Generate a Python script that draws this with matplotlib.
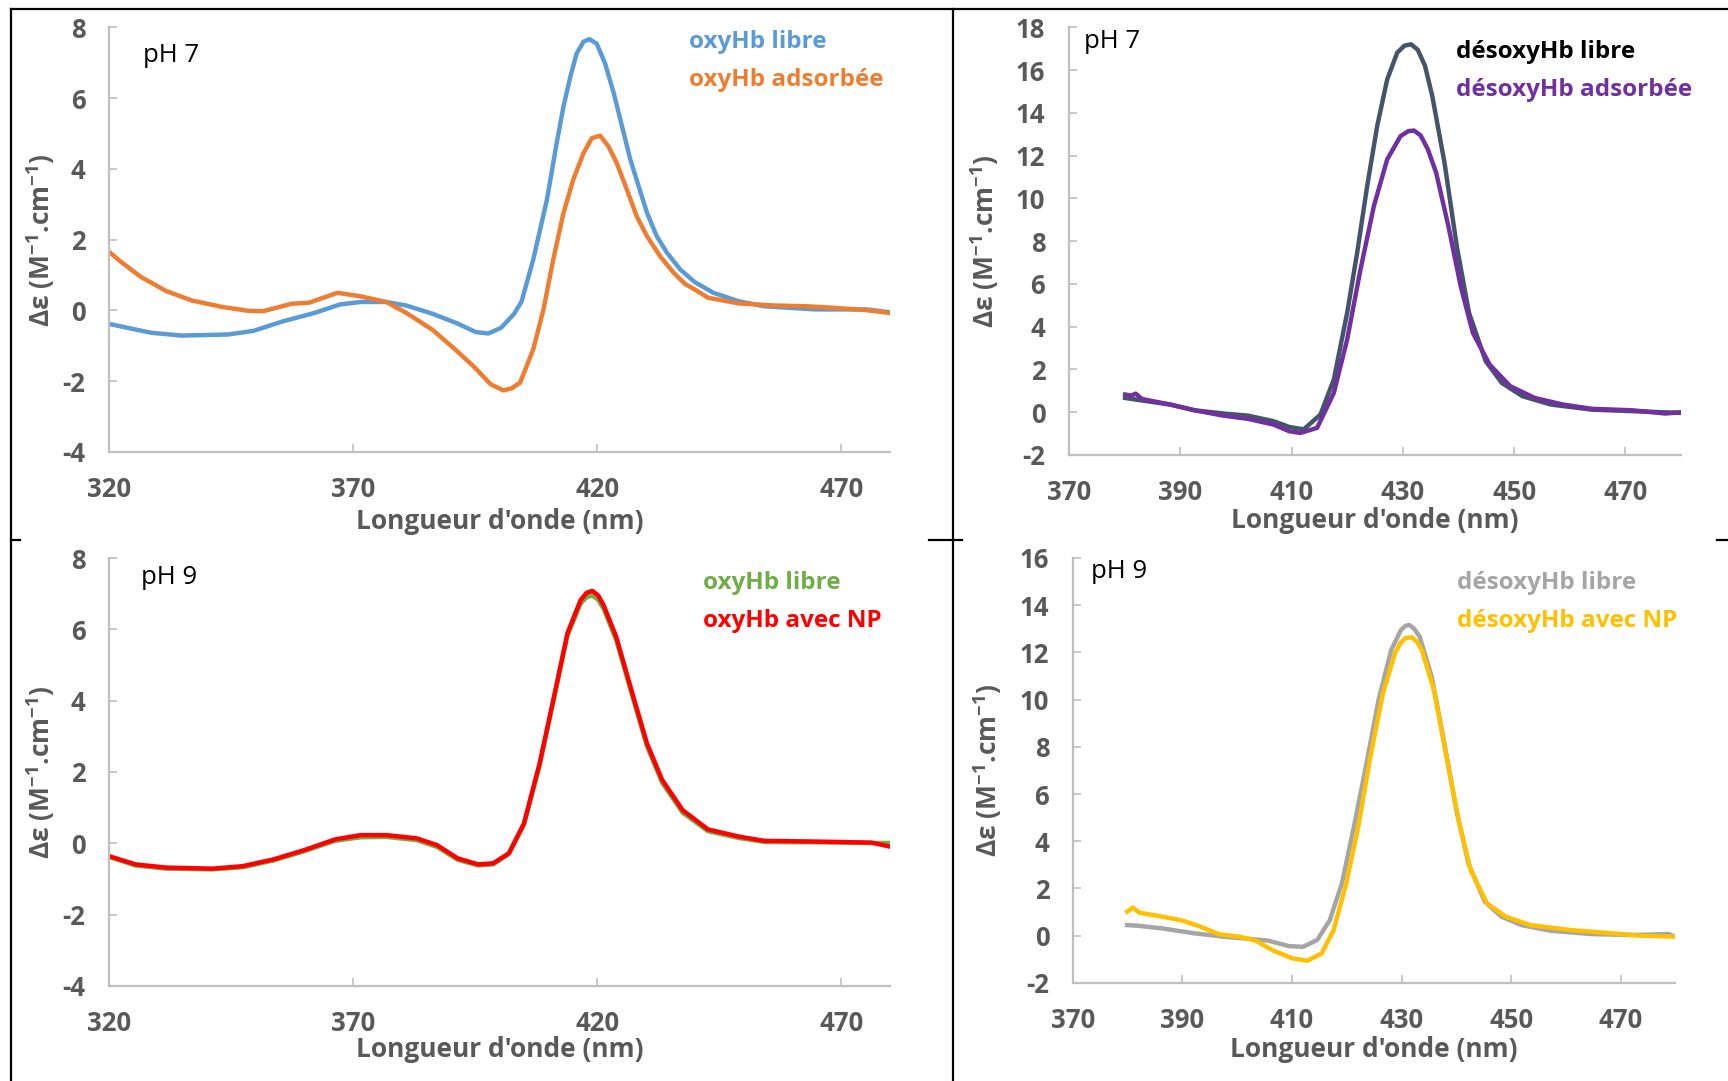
import matplotlib
matplotlib.use("Agg")
import matplotlib.pyplot as plt
from matplotlib.lines import Line2D

plt.rcParams['font.family'] = ['Open Sans', 'DejaVu Sans']
plt.rcParams['mathtext.fontset'] = 'custom'
plt.rcParams['mathtext.rm'] = 'Open Sans:bold'
plt.rcParams['mathtext.bf'] = 'Open Sans:bold'
plt.rcParams['mathtext.default'] = 'bf'
plt.rcParams['axes.unicode_minus'] = False

# ---- pH 7, oxyHb ----
wl_oxy7_libre = [320, 328.6, 334.9, 344.3, 349.5, 355.8, 362.1, 367.3, 371.5, 376.8, 380.9, 386.2,
                 391.4, 395.1, 397.7, 400.3, 402.9, 404.5, 406.9, 409.7, 411.7, 413.1, 414.5, 415.8,
                 417.2, 418.4, 419.9, 421.6, 423.4, 425.1, 426.8, 428.5, 430.2, 432.2, 434.3, 437.0,
                 440.0, 443.8, 449.0, 454.2, 464.7, 475.2, 479.9]
oxy7_libre = [-0.38, -0.63, -0.71, -0.68, -0.58, -0.30, -0.07, 0.17, 0.24, 0.24, 0.14, -0.09,
              -0.37, -0.61, -0.65, -0.49, -0.11, 0.25, 1.44, 3.13, 4.73, 5.77, 6.61, 7.27,
              7.60, 7.67, 7.54, 6.99, 6.14, 5.20, 4.26, 3.51, 2.76, 2.10, 1.63, 1.16,
              0.80, 0.50, 0.26, 0.12, 0.03, 0.03, -0.05]

wl_oxy7_ads = [320, 322.3, 326.5, 331.7, 337.0, 343.2, 348.5, 351.6, 357.4, 361.0, 366.8, 371.5,
               376.8, 380.9, 386.2, 390.9, 394.6, 398.2, 400.8, 402.5, 404.2, 406.9, 409.0, 411.0,
               413.1, 415.1, 417.2, 418.9, 420.6, 422.3, 424.0, 426.1, 428.1, 430.2, 432.9, 435.7,
               438.0, 440.5, 442.7, 449.0, 456.3, 462.6, 467.9, 475.2, 479.9]
oxy7_ads = [1.66, 1.39, 0.95, 0.55, 0.28, 0.10, -0.01, -0.02, 0.19, 0.22, 0.50, 0.40,
            0.24, -0.07, -0.54, -1.10, -1.57, -2.09, -2.26, -2.20, -2.04, -1.10, 0.03, 1.44,
            2.76, 3.70, 4.45, 4.87, 4.94, 4.64, 4.17, 3.41, 2.66, 2.10, 1.53, 1.06,
            0.75, 0.55, 0.36, 0.20, 0.14, 0.12, 0.08, 0.01, -0.07]

# ---- pH 7, desoxyHb ----
wl_desoxy7_libre = [380.1, 383.1, 388.2, 392.6, 397.8, 402.2, 406.8, 409.6, 412.2, 415.2, 417.6,
                    420.0, 421.8, 423.6, 425.4, 427.2, 429.0, 430.3, 431.5, 432.7, 434.0, 435.3,
                    437.5, 439.7, 441.9, 444.9, 447.8, 451.5, 456.6, 464.0, 471.3, 480.0]
desoxy7_libre = [0.67, 0.55, 0.36, 0.09, -0.06, -0.16, -0.42, -0.69, -0.80, -0.11, 1.53,
                 4.65, 7.46, 10.58, 13.39, 15.57, 16.82, 17.15, 17.21, 16.95, 16.20, 14.79,
                 11.67, 7.77, 4.65, 2.39, 1.37, 0.75, 0.36, 0.12, 0.05, -0.03]

wl_desoxy7_ads = [380.1, 381.2, 382.0, 383.1, 388.2, 392.6, 397.8, 402.2, 406.8, 409.6, 411.6,
                  414.6, 417.6, 420.0, 422.4, 424.8, 427.2, 429.6, 431.0, 432.0, 433.2, 434.5,
                  436.0, 438.2, 440.4, 442.6, 445.6, 449.3, 453.7, 458.8, 464.0, 471.3, 477.2, 480.0]
desoxy7_ads = [0.83, 0.78, 0.87, 0.62, 0.36, 0.09, -0.16, -0.31, -0.58, -0.89, -0.97,
               -0.73, 0.90, 3.40, 6.68, 9.64, 11.83, 12.92, 13.15, 13.18, 12.95, 12.30,
               11.20, 8.70, 5.90, 3.71, 2.23, 1.22, 0.67, 0.36, 0.16, 0.09, -0.06, 0.00]

# ---- pH 9, oxyHb ----
wl_oxy9 = [320, 325.4, 331.7, 341.2, 347.4, 353.7, 360.0, 366.3, 371.5, 376.8, 383.0, 387.2,
           391.4, 395.6, 398.7, 401.9, 405.0, 408.2, 411.3, 413.9, 416.6, 417.8, 419.0, 420.2,
           421.3, 423.9, 427.0, 430.2, 433.3, 437.5, 442.7, 449.0, 454.2, 464.7, 476.2, 479.9]
oxy9_libre = [-0.38, -0.62, -0.71, -0.73, -0.67, -0.48, -0.22, 0.07, 0.17, 0.18, 0.09, -0.10,
              -0.46, -0.62, -0.59, -0.30, 0.52, 2.18, 4.15, 5.82, 6.72, 6.90, 6.95, 6.83,
              6.58, 5.70, 4.22, 2.72, 1.70, 0.86, 0.34, 0.15, 0.04, 0.03, 0.01, 0.01]
oxy9_np = [-0.36, -0.59, -0.68, -0.71, -0.64, -0.45, -0.19, 0.11, 0.23, 0.23, 0.14, -0.05,
           -0.42, -0.59, -0.56, -0.28, 0.56, 2.24, 4.21, 5.89, 6.82, 7.02, 7.08, 6.95,
           6.68, 5.79, 4.30, 2.80, 1.78, 0.93, 0.39, 0.19, 0.07, 0.05, 0.02, -0.09]

# ---- pH 9, desoxyHb ----
wl_desoxy9_libre = [379.9, 382.0, 386.3, 392.2, 397.5, 401.2, 405.7, 409.4, 412.0, 414.6, 416.9,
                    419.1, 421.3, 423.6, 425.8, 428.1, 429.9, 430.7, 431.4, 432.3, 433.3, 435.5,
                    437.8, 440.0, 442.2, 445.2, 448.2, 451.9, 457.2, 464.6, 472.1, 478.8, 479.9]
desoxy9_libre = [0.45, 0.42, 0.31, 0.10, -0.04, -0.11, -0.21, -0.44, -0.47, -0.18, 0.66,
                 2.22, 4.62, 7.30, 9.99, 12.10, 12.95, 13.12, 13.16, 13.00, 12.67, 10.97,
                 8.15, 5.32, 3.06, 1.44, 0.81, 0.45, 0.21, 0.07, 0.03, 0.07, -0.04]

wl_desoxy9_np = [379.9, 380.9, 382.2, 386.3, 390.0, 393.0, 396.7, 400.4, 403.4, 406.4, 410.1,
                 412.8, 415.4, 417.6, 419.9, 422.1, 424.3, 426.6, 428.8, 429.8, 430.7, 431.8,
                 432.8, 433.7, 435.9, 438.2, 440.4, 442.6, 445.6, 449.0, 453.5, 460.9, 466.9,
                 473.6, 479.9]
desoxy9_np = [1.02, 1.19, 0.97, 0.81, 0.64, 0.41, 0.06, -0.04, -0.21, -0.61, -0.96,
              -1.06, -0.75, 0.24, 2.22, 4.62, 7.58, 10.27, 11.96, 12.40, 12.60, 12.64,
              12.45, 12.10, 10.41, 7.58, 4.90, 2.78, 1.37, 0.81, 0.45, 0.24, 0.13,
              0.00, -0.04]

GRAY_TXT = '#595959'
AXIS = '#bfbfbf'


def style_axis(ax, xlim, xticks, ylim, yticks, xlab_y, ylab_x):
    ax.set_xlim(*xlim)
    ax.set_ylim(*ylim)
    ax.set_xticks(xticks)
    ax.set_yticks(yticks)
    for s in ['top', 'right']:
        ax.spines[s].set_visible(False)
    for s in ['left', 'bottom']:
        ax.spines[s].set_color(AXIS)
        ax.spines[s].set_linewidth(1.6)
    ax.tick_params(direction='in', length=6, width=1.2, color=AXIS,
                   labelcolor=GRAY_TXT, labelsize=18.5)
    ax.tick_params(axis='x', pad=17)
    ax.tick_params(axis='y', pad=17)
    for lab in ax.get_xticklabels() + ax.get_yticklabels():
        lab.set_fontweight('bold')
    ax.set_xlabel("Longueur d'onde (nm)", fontsize=19, fontweight='bold', color=GRAY_TXT)
    ax.set_ylabel(r'Δε (M$^{-1}$.cm$^{-1}$)', fontsize=19, fontweight='bold', color=GRAY_TXT)
    ax.xaxis.set_label_coords(0.5, xlab_y)
    ax.yaxis.set_label_coords(ylab_x, 0.5)


fig = plt.figure(figsize=(17.28, 10.81), dpi=100)

ax1 = fig.add_axes([0.0631, 0.5819, 0.4520, 0.3927])
ax2 = fig.add_axes([0.6186, 0.5791, 0.3542, 0.3955])
ax3 = fig.add_axes([0.0631, 0.0879, 0.4520, 0.3959])
ax4 = fig.add_axes([0.6209, 0.0907, 0.3487, 0.3932])

lw = 3.2
ax1.plot(wl_oxy7_libre, oxy7_libre, color='#5b9bd5', lw=lw)
ax1.plot(wl_oxy7_ads, oxy7_ads, color='#ed7d31', lw=lw)
style_axis(ax1, (320, 480), [320, 370, 420, 470], (-4, 8), range(-4, 9, 2), -0.131, -0.066)

ax2.plot(wl_desoxy7_libre, desoxy7_libre, color='#44546a', lw=lw)
ax2.plot(wl_desoxy7_ads, desoxy7_ads, color='#7030a0', lw=lw)
style_axis(ax2, (370, 480), [370, 390, 410, 430, 450, 470], (-2, 18), range(-2, 19, 2), -0.121, -0.111)

ax3.plot(wl_oxy9, oxy9_libre, color='#70ad47', lw=lw)
ax3.plot(wl_oxy9, oxy9_np, color='#ff0000', lw=lw)
style_axis(ax3, (320, 480), [320, 370, 420, 470], (-4, 8), range(-4, 9, 2), -0.118, -0.066)

ax4.plot(wl_desoxy9_libre, desoxy9_libre, color='#a5a5a5', lw=lw)
ax4.plot(wl_desoxy9_np, desoxy9_np, color='#ffc000', lw=lw)
style_axis(ax4, (370, 480), [370, 390, 410, 430, 450, 470], (-2, 16), range(-2, 17, 2), -0.124, -0.1145)

# legends as coloured text (figure pixel coords)
H = 1081.0
W = 1728.0


def ftext(x, y, s, color, bold=True, size=17.5):
    fig.text(x / W, 1 - y / H, s, color=color, fontsize=size,
             fontweight='bold' if bold else 'normal', va='center', ha='left')


ftext(689, 42, 'oxyHb libre', '#5b9bd5')
ftext(689, 80, 'oxyHb adsorbée', '#ed7d31')
ftext(1456, 52, 'désoxyHb libre', '#000000')
ftext(1456, 90, 'désoxyHb adsorbée', '#7030a0')
ftext(703, 583, 'oxyHb libre', '#70ad47')
ftext(703, 621, 'oxyHb avec NP', '#ff0000')
ftext(1457, 583, 'désoxyHb libre', '#a5a5a5')
ftext(1457, 621, 'désoxyHb avec NP', '#ffc000')

ftext(143, 56, 'pH 7', '#000000', bold=False, size=18.5)
ftext(1084, 41, 'pH 7', '#000000', bold=False, size=18.5)
ftext(141, 578, 'pH 9', '#000000', bold=False, size=18.5)
ftext(1091, 572, 'pH 9', '#000000', bold=False, size=18.5)


# table borders around the panels
def fline(x0, y0, x1, y1):
    fig.add_artist(Line2D([x0 / W, x1 / W], [1 - y0 / H, 1 - y1 / H],
                          color='black', lw=1.6, transform=fig.transFigure))


fline(11, 9, 1728, 9)
fline(11, 9, 11, 1081)
fline(953, 9, 953, 1081)
fline(11, 540, 20, 540)
fline(929, 540, 962, 540)
fline(1717, 540, 1728, 540)

fig.savefig('out.png', dpi=100, facecolor='white')
